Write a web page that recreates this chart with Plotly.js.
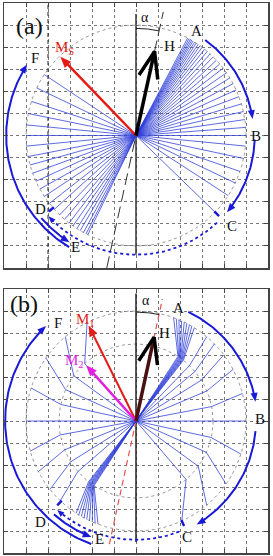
<!DOCTYPE html>
<html><head><meta charset="utf-8">
<script src="https://cdn.plot.ly/plotly-3.0.1.min.js"></script>
<style>html,body{margin:0;padding:0;background:#fff}</style>
</head><body><div id="chart" style="width:273px;height:556px"></div>
<script>
// ---------- data (angles in degrees, lengths in grid units) ----------
// panel (a): single-domain magnetisation directions, all of radius aRadius
const aLineAngles = [62,61.2,60.4,59.6,58.8,57.8,56.8,55.6,54.4,53,51.4,49.6,47.6,45.4,43,40.4,37.6,34.6,31.4,28,24.4,20.6,16.6,12.5,8.3,4.2,0,
  -5.5,-12,-19,-25.5,-33,-44,
  146.5,154.5,162,168.5,174.5,180,185.5,191,195.5,200,204.5,209,213.5,218,222,226,229.5,232.5,235,237.5,239.5,241.5,243,244];
const aRadius = 5;
// panel (b): two-layer magnetisation, M2 on inner circle, M1 on outer circle
const bM2Angles = [57,56.3,55.6,55,54.4,53.8,53.2,52.6,52, 46,40,32,23,10.8,0, -12.4,-24,-36,-49.4,
  131.8,144,156,167.6, 180,190.4,202,212,221, 232,232.7,233.4,234,234.6,235.2,235.8,236.4,237];
const bM1Angles = [70,68.5,67,65.5,64,62.5,61,59.5,58, 50,44.5,37,28,14.5,0, -17.5,-35,-50,-65.4,
  116.4,130,145,162.5, 180,195.9,207.4,218.5,226.5, 237,238.6,240.2,241.8,243.4,245,246.6,248.2,249.8];
const bRadii = [3.5, 5];
const alphaDeg = [12.5, 12.2];          // field tilt from vertical, panels a, b
const hLength = [3.9, 3.9];
const msVec = [134, 4.95];              // angle, length
const m1Vec = [116.4, 4.85];
const m2Vec = [131.8, 3.4];
// rotation arrows: labels, start angle, end angle, radius
const arcNames = ['AB','BC','CD','DE','EF'];
const aArcStart = [54, -2, -47, 221, 239];
const aArcEnd   = [8, -40, -137.4, 238, 147];
const aArcR     = [5.35, 5.4, 5.4, 5.7, 5.9];
const bArcStart = [64.4, -4.8, -68.7, 228.7, 250];
const bArcEnd   = [9.2, -59.6, -131.5, 249, 133.4];
const bArcR     = [5.5, 5.45, 5.4, 5.65, 5.95];
const aMarks = [-44, 221];   // C and D jump marks
const bMarks = [-65.4, 227];

// ---------- helpers ----------
const D2R = Math.PI/180;
const P = (r,a)=>[r*Math.cos(a*D2R), r*Math.sin(a*D2R)];
const traces = [];
const annotations = [];
function line(xs, ys, ax, ln){ traces.push({type:'scatter',mode:'lines',x:xs,y:ys,xaxis:ax[0],yaxis:ax[1],line:ln,hoverinfo:'skip',showlegend:false,connectgaps:false}); }
function arc(r,a0,a1,n){ n=n||90; const xs=[],ys=[]; for(let i=0;i<=n;i++){const a=a0+(a1-a0)*i/n; const p=P(r,a); xs.push(p[0]); ys.push(p[1]);} return [xs,ys]; }
const BLUE='rgb(25,25,215)', FAN='rgba(45,60,215,0.85)';
const serif='Liberation Serif, Times New Roman, serif';
function label(ax, x, y, text, size, color){ annotations.push({xref:ax[0],yref:ax[1],x,y,text,showarrow:false,font:{family:serif,size:size||15,color:color||'#111'}}); }
// filled triangular arrow head: tip point, direction angle (deg), length, half-width
function tri(ax, tip, dirDeg, L, W, color){
  const d=P(1,dirDeg), n=[-d[1],d[0]];
  const bx=tip[0]-L*d[0], by=tip[1]-L*d[1];
  traces.push({type:'scatter',mode:'lines',x:[tip[0],bx+W*n[0],bx-W*n[0],tip[0]],y:[tip[1],by+W*n[1],by-W*n[1],tip[1]],
    xaxis:ax[0],yaxis:ax[1],fill:'toself',fillcolor:color,line:{width:0,color:color},hoverinfo:'skip',showlegend:false});
}
function arcHead(ax, r, a0, a1, color, L, W){
  const s=a1>a0?1:-1; const e=P(r,a1); tri(ax,e,a1+s*90,L,W,color);
}
function vecArrow(ax, v, color, w){
  const t=P(v[1],v[0]), b=P(v[1]-0.4,v[0]);
  line([0,b[0]],[0,b[1]],ax,{color,width:w});
  tri(ax,t,v[0],0.5,0.2,color);
}
function hArrow(ax, alpha, len, shaftColor){
  const th=90-alpha, t=P(len,th), l=P(1.28,th+180-21), r=P(1.28,th+180+19);
  line([0,t[0]],[0,t[1]],ax,{color:shaftColor,width:3.5});
  line([t[0]+l[0],t[0],t[0]+r[0]],[t[1]+l[1],t[1],t[1]+r[1]],ax,{color:'#000',width:3.5});
}

// ---------- panel (a) ----------
const A=['x','y'];
line([-4,-4],[-6,6],A,{color:'#222',width:1,dash:'4px,3px'});
let c=arc(aRadius,0,360,180); line(c[0],c[1],A,{color:'#999',width:1,dash:'dot'});
line([0,0],[-5.4,5.5],A,{color:'#333',width:1.5});
{const th=90-alphaDeg[0]; const k=1/Math.sin(th*D2R); const p0=P(-6*k,th), p1=P(5.6*k,th);
 line([p0[0],p1[0]],[p0[1],p1[1]],A,{color:'#333',width:1,dash:'12px,5px'});}
{const xs=[],ys=[]; aLineAngles.forEach(a=>{const p=P(aRadius,a); xs.push(0,p[0],null); ys.push(0,p[1],null);}); line(xs,ys,A,{color:FAN,width:0.9});}
arcNames.forEach((n,i)=>{const dotted=n==='CD'; const s=aArcEnd[i]>aArcStart[i]?1:-1;
  const q=arc(aArcR[i],aArcStart[i],aArcEnd[i]-s*2.5);
  line(q[0],q[1],A,{color:BLUE,width:dotted?1.8:2,dash:dotted?'dot':'solid'}); arcHead(A,aArcR[i],aArcStart[i],aArcEnd[i],BLUE,dotted?0.32:0.4,dotted?0.13:0.16);});
aMarks.forEach(a=>{const p=P(4.95,a),q=P(5.25,a); line([p[0],q[0]],[p[1],q[1]],A,{color:BLUE,width:2.5});});
c=arc(4.85,90,90-alphaDeg[0],20); line(c[0],c[1],A,{color:'#222',width:1});
vecArrow(A,msVec,'rgb(230,25,20)',2.5);
hArrow(A,alphaDeg[0],hLength[0],'#000');
label(A,-4.85,4.95,'(a)',24);
label(A,2.76,4.74,'A'); label(A,5.45,-0.03,'B'); label(A,4.35,-4.12,'C');
label(A,-4.36,-3.33,'D'); label(A,-2.73,-5.03,'E'); label(A,-4.59,3.49,'F');
label(A,1.5,4.06,'H'); label(A,0.42,5.35,'α',14);
label(A,-3.25,3.95,'M<sub>S</sub>',15,'rgb(225,30,25)');

// ---------- panel (b) ----------
const B=['x2','y2'];
c=arc(bRadii[1],0,360,180); line(c[0],c[1],B,{color:'#999',width:1,dash:'dot'});
c=arc(bRadii[0],0,360,180); line(c[0],c[1],B,{color:'#999',width:1,dash:'dot'});
line([0,0],[-5.5,5.8],B,{color:'#222',width:1.5});
{const th=90-alphaDeg[1]; const k=1/Math.sin(th*D2R); const p0=P(-5.6*k,th), p1=P(5.55*k,th);
 line([p0[0],p1[0]],[p0[1],p1[1]],B,{color:'rgb(225,85,85)',width:1.2,dash:'6px,4px'});}
{const xs=[],ys=[]; bM2Angles.forEach((a,i)=>{const p=P(bRadii[0],a), q=P(bRadii[1],bM1Angles[i]); xs.push(0,p[0],q[0],null); ys.push(0,p[1],q[1],null);}); line(xs,ys,B,{color:FAN,width:0.9});}
arcNames.forEach((n,i)=>{const dotted=n==='CD'; const s=bArcEnd[i]>bArcStart[i]?1:-1;
  const q=arc(bArcR[i],bArcStart[i],bArcEnd[i]-s*2.5);
  line(q[0],q[1],B,{color:BLUE,width:dotted?1.8:2,dash:dotted?'dot':'solid'}); arcHead(B,bArcR[i],bArcStart[i],bArcEnd[i],BLUE,dotted?0.32:0.4,dotted?0.13:0.16);});
bMarks.forEach(a=>{const p=P(4.95,a),q=P(5.25,a); line([p[0],q[0]],[p[1],q[1]],B,{color:BLUE,width:2.5});});
c=arc(4.95,90,90-alphaDeg[1],20); line(c[0],c[1],B,{color:'#222',width:1});
vecArrow(B,m1Vec,'rgb(225,30,25)',2);
vecArrow(B,m2Vec,'rgb(225,30,225)',2.5);
hArrow(B,alphaDeg[1],hLength[1],'#4a1010');
label(B,-5.1,5.3,'(b)',24);
label(B,1.92,5.12,'A'); label(B,5.64,0.1,'B'); label(B,2.33,-5.26,'C');
label(B,-4.35,-4.58,'D'); label(B,-1.64,-5.38,'E'); label(B,-3.55,4.45,'F');
label(B,1.3,3.98,'H'); label(B,0.45,5.47,'α',14);
label(B,-2.3,4.6,'M<sub>1</sub>',15,'rgb(225,30,25)');
label(B,-2.8,2.75,'M<sub>2</sub>',15,'rgb(225,30,225)');

// ---------- layout ----------
const common={range:[-6,6],dtick:1,tick0:0,showgrid:true,gridcolor:'#777',griddash:'dot',gridwidth:1,zeroline:false,
  showline:true,linecolor:'#444',linewidth:1.5,mirror:'ticks',ticks:'inside',ticklen:4,tickcolor:'#444',showticklabels:false,fixedrange:true};
const layout={width:273,height:556,margin:{l:0,r:0,t:0,b:0},paper_bgcolor:'#fff',plot_bgcolor:'#fff',showlegend:false,
  xaxis:Object.assign({},common,{domain:[4/273,268/273],anchor:'y'}),
  yaxis:Object.assign({},common,{domain:[288/556,553/556],anchor:'x'}),
  xaxis2:Object.assign({},common,{domain:[4/273,268/273],anchor:'y2'}),
  yaxis2:Object.assign({},common,{domain:[3/556,267/556],anchor:'x2'}),
  annotations};
Plotly.newPlot('chart',traces,layout,{staticPlot:true,displayModeBar:false});
</script></body></html>
